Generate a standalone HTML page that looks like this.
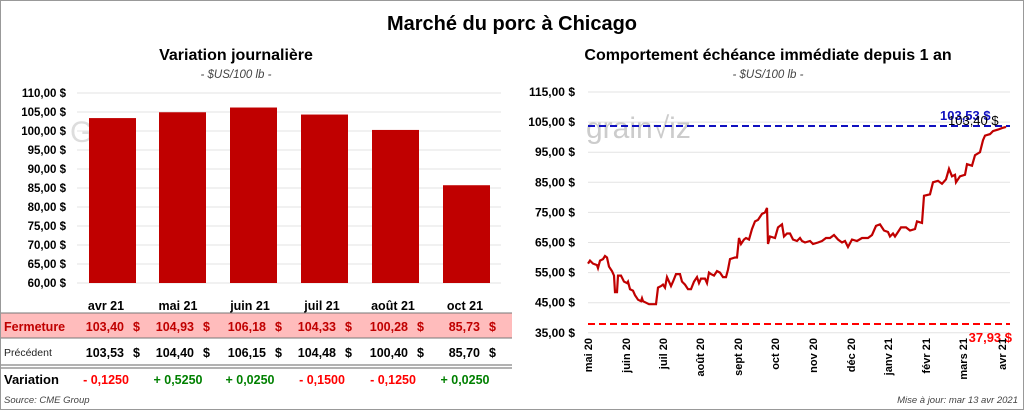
<!DOCTYPE html>
<html><head><meta charset="utf-8"><style>
body{margin:0;background:#fff}
svg{display:block;font-family:"Liberation Sans",sans-serif}
</style></head><body>
<svg id="s" width="1024" height="410" viewBox="0 0 1024 410" xmlns="http://www.w3.org/2000/svg">
<rect x="0.5" y="0.5" width="1023" height="409" fill="#fff" stroke="#999"/>
<text x="512" y="30" text-anchor="middle" font-size="20" font-weight="bold">Marché du porc à Chicago</text>
<text x="236" y="60" text-anchor="middle" font-size="16" font-weight="bold">Variation  journalière</text>
<text x="236" y="78" text-anchor="middle" font-size="11.5" font-style="italic" fill="#444">- $US/100 lb -</text>
<text x="768" y="60" text-anchor="middle" font-size="16" font-weight="bold">Comportement  échéance immédiate depuis 1 an</text>
<text x="768" y="78" text-anchor="middle" font-size="11.5" font-style="italic" fill="#444">- $US/100 lb -</text>
<g id="lg" stroke="#e3e3e3" stroke-width="1"></g>
<g id="ll" font-size="11.5" font-weight="bold" text-anchor="end"></g>
<text x="70" y="142" font-size="30" fill="#ddd">Gr</text>
<g fill="#c00000" id="bars"></g>
<g id="rg" stroke="#e3e3e3"></g>
<g id="rl" font-size="12" font-weight="bold" text-anchor="end"></g>
<text x="586" y="138" font-size="30" fill="#ccc">grain√iz</text>
<line x1="588" y1="126" x2="1010" y2="126" stroke="#1010c0" stroke-width="2" stroke-dasharray="7,4"/>
<line x1="588" y1="324" x2="1010" y2="324" stroke="#ff0000" stroke-width="2" stroke-dasharray="7,4"/>
<polyline id="pl" fill="none" stroke="#c00000" stroke-width="2.2"/>
<text x="940" y="120" font-size="13" font-weight="bold" fill="#1010c0">103,53 $</text>
<text x="948" y="125" font-size="13" fill="#000">103,40 $</text>
<text x="1012" y="342" text-anchor="end" font-size="13" font-weight="bold" fill="#ff0000">37,93 $</text>
<g id="mx" font-size="11" font-weight="bold"></g>
<rect x="1" y="313" width="511" height="25" fill="#ffbcbc"/>
<line x1="1" y1="313" x2="512" y2="313" stroke="#777"/>
<line x1="1" y1="338" x2="512" y2="338" stroke="#777"/>
<line x1="1" y1="365" x2="512" y2="365" stroke="#666"/>
<line x1="1" y1="368" x2="512" y2="368" stroke="#666"/>
<g id="tb" font-size="12.5" font-weight="bold"></g>
<text x="4" y="331" font-size="12.5" font-weight="bold" fill="#c00000">Fermeture</text>
<text x="4" y="356" font-size="10.5" fill="#222">Précédent</text>
<text x="4" y="384" font-size="13" font-weight="bold">Variation</text>
<text x="4" y="403" font-size="9.5" font-style="italic" fill="#444">Source: CME Group</text>
<text x="1018" y="403" text-anchor="end" font-size="9.5" font-style="italic" fill="#444">Mise à jour: mar 13 avr 2021</text>
</svg>
<script>
const NS="http://www.w3.org/2000/svg";
function el(p,t,a,txt){const e=document.createElementNS(NS,t);for(const k in a)e.setAttribute(k,a[k]);if(txt!=null)e.textContent=txt;document.getElementById(p).appendChild(e);return e;}
for(let v=60;v<=110;v+=5){const y=283-(v-60)*3.8;el('lg','line',{x1:77,x2:501,y1:y,y2:y});el('ll','text',{x:66,y:y+4},v.toFixed(2).replace('.',',')+' $');}
const bx=[89,159,230,301,372,443],bv=[103.4,104.93,106.18,104.33,100.28,85.73];
bx.forEach((x,i)=>{const y=283-(bv[i]-60)*3.8;el('bars','rect',{x:x,y:y,width:47,height:283-y});});
const ry=v=>92+(115-v)*3.01;
for(let v=35;v<=115;v+=10){el('rg','line',{x1:588,x2:1010,y1:ry(v),y2:ry(v)});el('rl','text',{x:575,y:ry(v)+4},v.toFixed(2).replace('.',',')+' $');}
const mo=[["mai 20",588],["juin 20",626],["juil 20",663],["août 20",700],["sept 20",738],["oct 20",775],["nov 20",813],["déc 20",851],["janv 21",888],["févr 21",926],["mars 21",963],["avr 21",1002]];
mo.forEach(([t,x])=>el('mx','text',{x:0,y:0,'text-anchor':'end',transform:`translate(${x+4},338) rotate(-90)`},t));
const d=[[588,58],[590,59],[593,58],[597,57.5],[598,56.5],[600,59],[603,59.5],[605,60.5],[607,60],[609,57],[612,55.5],[614,54],[615,48.5],[617,48.5],[618,54],[621,54],[624,52],[627,51.5],[628,52],[630,49.5],[633,49],[635,47.5],[638,46],[641,45.5],[642,46.5],[643,45.5],[646,45],[649,44.5],[653,44.5],[656,44.5],[658,50],[661,50.5],[663,51],[665,50],[667,53.5],[669,52],[671,50.5],[673,52],[676,54.5],[680,54.5],[682,52],[685,51],[688,49.5],[691,49.5],[694,52],[697,53.5],[699,51.5],[701,53],[705,53],[707,51.5],[709,55],[711,54.5],[714,54],[717,55.5],[720,55],[723,53.5],[726,53.5],[728,56],[730,59.5],[735,60],[737,60],[739,66.5],[741,64.5],[744,66],[746,66.5],[749,66],[752,69.5],[755,72],[758,72.5],[762,74.5],[765,75],[767,76.5],[768,64.5],[770,67],[775,66.5],[778,70],[782,71],[784,67],[787,68],[790,68],[793,66],[797,65.5],[800,66.5],[802,65.5],[805,65],[810,65.5],[813,64.5],[818,65],[822,65.5],[826,66.5],[830,66.5],[834,67.5],[838,66],[842,65],[845,65.5],[848,63.5],[852,66],[857,65.5],[862,66.5],[868,66.5],[872,67.5],[876,70.5],[880,71],[884,69],[888,68.5],[890,67],[893,68],[895,67],[898,68.5],[901,70],[906,70],[910,69],[915,69.5],[917,72],[922,71.5],[924,80.5],[930,81],[933,85],[938,85.5],[942,84.5],[946,86],[949,89.5],[952,87],[955,87.5],[956,85],[960,87],[965,87.5],[967,91],[972,90.5],[975,94],[980,95],[983,99],[985,100.5],[990,101],[993,102],[998,102.5],[1002,103],[1006,103.4]];
document.getElementById('pl').setAttribute('points',d.map(p=>p[0]+','+ry(p[1]).toFixed(1)).join(' '));
const hx=[106,178,250,322,393,465];
const hd=["avr 21","mai 21","juin 21","juil 21","août 21","oct 21"];
const f=["103,40","104,93","106,18","104,33","100,28","85,73"];
const p=["103,53","104,40","106,15","104,48","100,40","85,70"];
const vr=["- 0,1250","+ 0,5250","+ 0,0250","- 0,1500","- 0,1250","+ 0,0250"];
const rx=[140,210,282,352,424,496];
hx.forEach((x,i)=>{
el('tb','text',{x:x,y:310,'text-anchor':'middle'},hd[i]);
el('tb','text',{x:rx[i]-16,y:331,'text-anchor':'end',fill:'#c00000'},f[i]);
el('tb','text',{x:rx[i],y:331,'text-anchor':'end',fill:'#c00000'},'$');
el('tb','text',{x:rx[i]-16,y:357,'text-anchor':'end'},p[i]);
el('tb','text',{x:rx[i],y:357,'text-anchor':'end'},'$');
el('tb','text',{x:x,y:384,'text-anchor':'middle',fill:vr[i][0]=='-'?'#ff0000':'#008000'},vr[i]);
});
</script>
</body></html>
